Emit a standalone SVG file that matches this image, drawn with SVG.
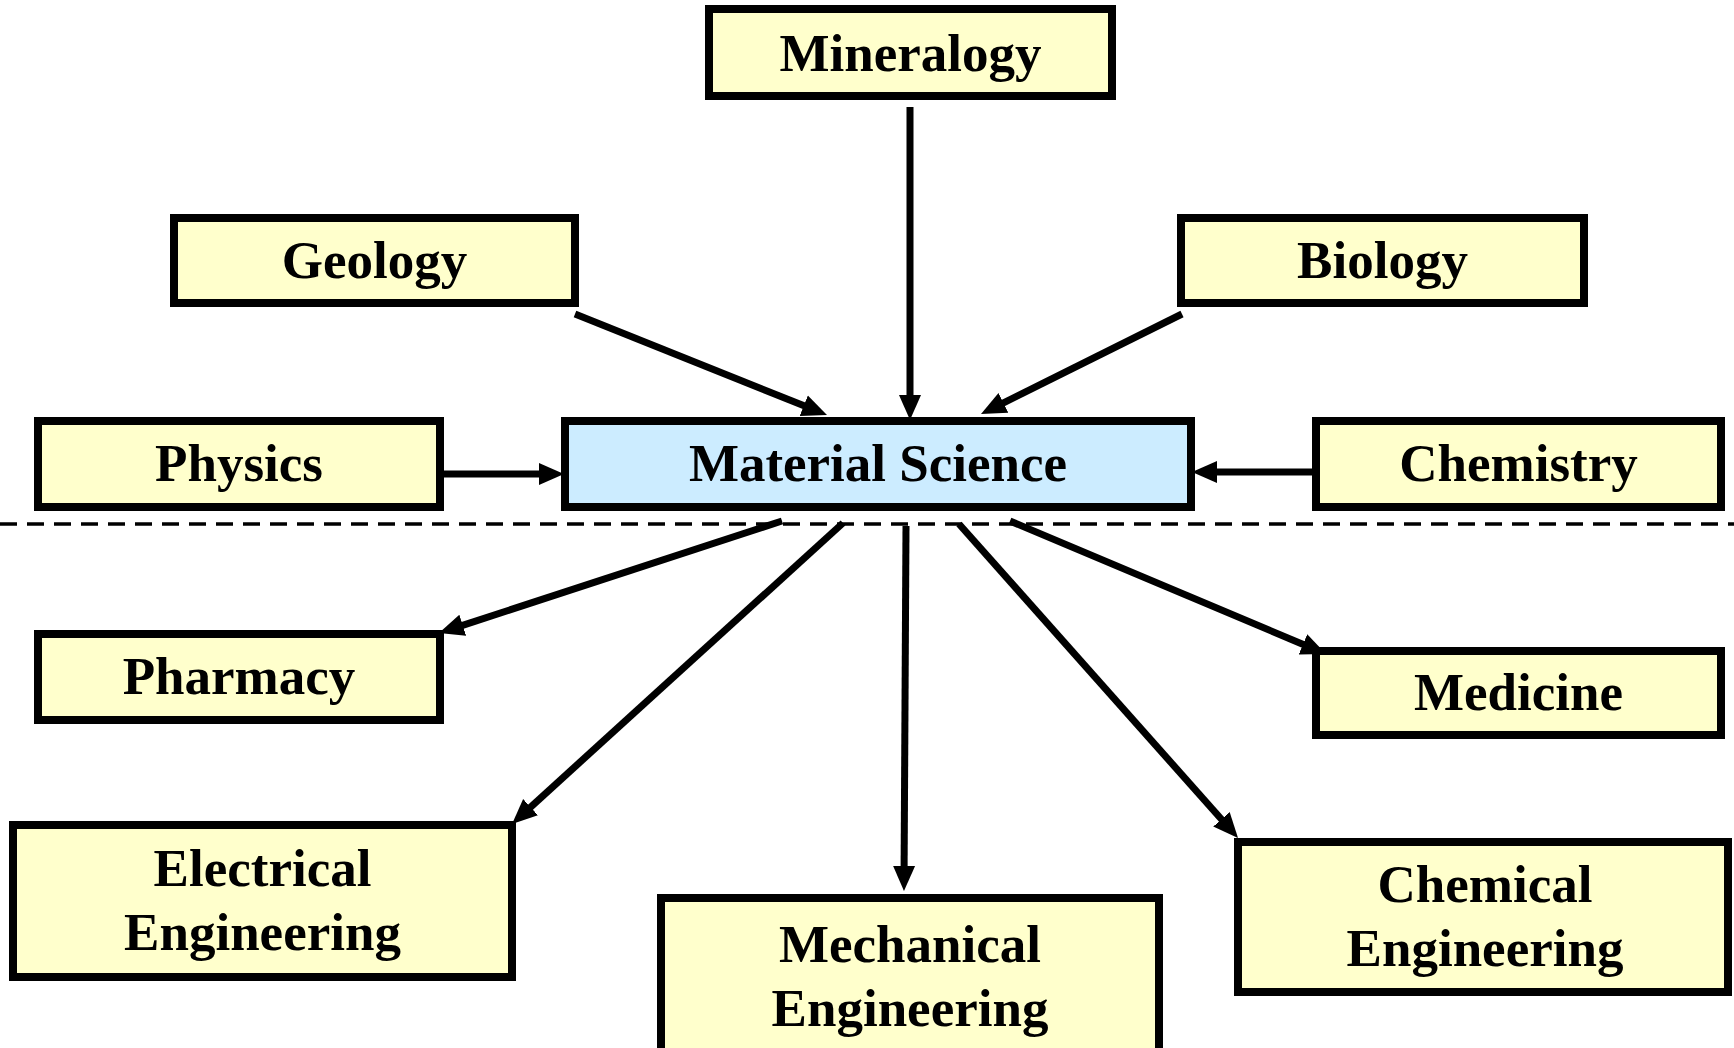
<svg xmlns="http://www.w3.org/2000/svg" width="1734" height="1048" viewBox="0 0 1734 1048">
<style>
.box{fill:#FFFFCC;stroke:#000;stroke-width:8}
.main{fill:#CCECFF;stroke:#000;stroke-width:8}
.lbl{font-family:"Liberation Serif","Times New Roman",serif;font-weight:bold;font-size:53px;fill:#000;text-anchor:middle}
.conn{stroke:#000;stroke-width:7;fill:none;marker-end:url(#ah)}
.dash{stroke:#000;stroke-width:3.5;stroke-dasharray:17 10;fill:none}
</style>
<defs>
<marker id="ah" markerUnits="userSpaceOnUse" markerWidth="25" markerHeight="24" refX="1" refY="12" orient="auto">
<path d="M0,1 L25,12 L0,23 z" fill="#000"/>
</marker>
</defs>
<rect width="1734" height="1048" fill="#fff"/>
<line class="dash" x1="0" y1="524" x2="1734" y2="524"/>
<g id="connectors">
<line class="conn" x1="910" y1="107" x2="910" y2="396"/>
<line class="conn" x1="575" y1="314" x2="804.7" y2="406.1"/>
<line class="conn" x1="1182" y1="314" x2="1002.5" y2="403.3"/>
<line class="conn" x1="440" y1="474" x2="540" y2="474"/>
<line class="conn" x1="1316" y1="472" x2="1216" y2="472"/>
<line class="conn" x1="782" y1="521" x2="461.8" y2="625.6"/>
<line class="conn" x1="843" y1="523" x2="529.8" y2="807.8"/>
<line class="conn" x1="906" y1="526" x2="904.1" y2="867"/>
<line class="conn" x1="959" y1="524" x2="1222.1" y2="820"/>
<line class="conn" x1="1010" y1="521" x2="1303.9" y2="644.7"/>
</g>
<g id="mineralogy"><rect class="box" x="709" y="9" width="403" height="87"/><text class="lbl" x="910.5" y="71">Mineralogy</text></g>
<g id="geology"><rect class="box" x="174" y="218" width="401" height="85"/><text class="lbl" x="374.5" y="278">Geology</text></g>
<g id="biology"><rect class="box" x="1181" y="218" width="403" height="85"/><text class="lbl" x="1382.5" y="278">Biology</text></g>
<g id="physics"><rect class="box" x="38" y="421" width="402" height="86"/><text class="lbl" x="239" y="481">Physics</text></g>
<g id="material-science"><rect class="main" x="565" y="421" width="626" height="86"/><text class="lbl" x="878" y="481">Material Science</text></g>
<g id="chemistry"><rect class="box" x="1316" y="421" width="405" height="86"/><text class="lbl" x="1518.5" y="481">Chemistry</text></g>
<g id="pharmacy"><rect class="box" x="38" y="634" width="402" height="86"/><text class="lbl" x="239" y="694">Pharmacy</text></g>
<g id="medicine"><rect class="box" x="1316" y="651" width="405" height="84"/><text class="lbl" x="1518.5" y="710">Medicine</text></g>
<g id="electrical-engineering"><rect class="box" x="13" y="825" width="499" height="152"/><text class="lbl" x="262.5" y="886">Electrical</text><text class="lbl" x="262.5" y="950">Engineering</text></g>
<g id="mechanical-engineering"><rect class="box" x="661" y="898" width="498" height="170"/><text class="lbl" x="910" y="962">Mechanical</text><text class="lbl" x="910" y="1026">Engineering</text></g>
<g id="chemical-engineering"><rect class="box" x="1238" y="842" width="490" height="150"/><text class="lbl" x="1485" y="902">Chemical</text><text class="lbl" x="1485" y="966">Engineering</text></g>
</svg>
